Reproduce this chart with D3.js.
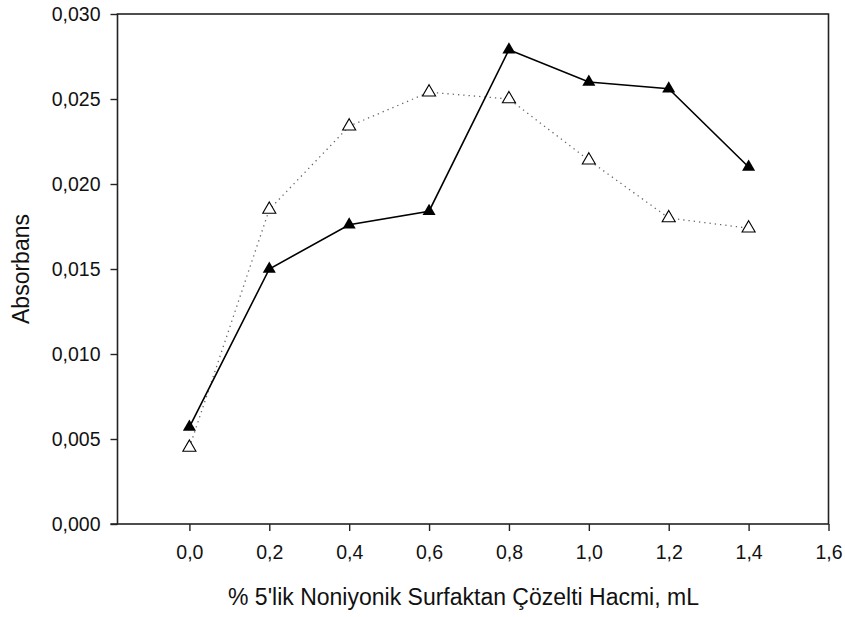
<!DOCTYPE html>
<html>
<head>
<meta charset="utf-8">
<script src="https://cdn.jsdelivr.net/npm/d3@7"></script>
<style>
  body { margin: 0; background: #fff; }
  svg text { font-family: "Liberation Sans", Arial, sans-serif; fill: #111; }
</style>
</head>
<body>
<div id="chart"></div>
<script>
// volumes (mL) and absorbance readings for the two series
const volumes = [0.0, 0.2, 0.4, 0.6, 0.8, 1.0, 1.2, 1.4];
const filledSeries = [0.0057, 0.0150, 0.0176, 0.0184, 0.0279, 0.0260, 0.0256, 0.0210];
const openSeries = [0.0045, 0.0185, 0.0234, 0.0254, 0.0250, 0.0214, 0.0180, 0.0174];
const xTicks = [0.0, 0.2, 0.4, 0.6, 0.8, 1.0, 1.2, 1.4, 1.6];
const yTicks = [0.000, 0.005, 0.010, 0.015, 0.020, 0.025, 0.030];

const width = 845, height = 617;
const plot = {left: 117.5, right: 828.5, top: 14, bottom: 524};

const locale = d3.formatLocale({decimal: ",", thousands: ".", grouping: [3], currency: ["", ""]});
const fx = locale.format(".1f"), fy = locale.format(".3f");

const svg = d3.select("#chart").append("svg")
  .attr("width", width)
  .attr("height", height);

const x = d3.scaleLinear().domain([-0.18, 1.6]).range([plot.left, plot.right]);
const y = d3.scaleLinear().domain([0, 0.030]).range([plot.bottom, plot.top]);

// frame
svg.append("rect")
  .attr("x", plot.left).attr("y", plot.top)
  .attr("width", plot.right - plot.left).attr("height", plot.bottom - plot.top)
  .attr("fill", "none").attr("stroke", "#222").attr("stroke-width", 1.6);

// axes
const xAxisG = svg.append("g")
  .attr("transform", `translate(0,${plot.bottom})`)
  .call(d3.axisBottom(x).tickValues(xTicks).tickFormat(fx).tickSize(7).tickSizeOuter(0).tickPadding(14));

const yAxisG = svg.append("g")
  .attr("transform", `translate(${plot.left},0)`)
  .call(d3.axisLeft(y).tickValues(yTicks).tickFormat(fy).tickSize(7).tickSizeOuter(0).tickPadding(10));

[xAxisG, yAxisG].forEach(g => {
  g.select(".domain").remove();
  g.selectAll(".tick line").attr("stroke", "#222").attr("stroke-width", 1.4);
  g.selectAll(".tick text").style("font-size", "19.5px").attr("fill", "#111");
});

// extend the bottom line left to the tick length
svg.append("line")
  .attr("x1", plot.left - 7).attr("x2", plot.left)
  .attr("y1", plot.bottom).attr("y2", plot.bottom)
  .attr("stroke", "#222").attr("stroke-width", 1.6);

// axis titles
svg.append("text")
  .attr("x", 463.5)
  .attr("y", 605)
  .attr("text-anchor", "middle")
  .style("font-size", "23px")
  .text("% 5'lik Noniyonik Surfaktan Çözelti Hacmi, mL");

svg.append("text")
  .attr("transform", `translate(29,${(plot.top + plot.bottom) / 2}) rotate(-90)`)
  .attr("text-anchor", "middle")
  .style("font-size", "23px")
  .text("Absorbans");

// lines
const line = d3.line().x(d => x(d[0])).y(d => y(d[1]));
const openPts = volumes.map((v, i) => [v, openSeries[i]]);
const filledPts = volumes.map((v, i) => [v, filledSeries[i]]);

svg.append("path")
  .attr("d", line(openPts))
  .attr("fill", "none")
  .attr("stroke", "#666")
  .attr("stroke-width", 1.3)
  .attr("stroke-dasharray", "1.3,4");

svg.append("path")
  .attr("d", line(filledPts))
  .attr("fill", "none")
  .attr("stroke", "#000")
  .attr("stroke-width", 1.6);

// markers
const tri = d3.symbol().type(d3.symbolTriangle).size(74);

svg.selectAll(".open")
  .data(openPts)
  .join("path")
  .attr("class", "open")
  .attr("transform", d => `translate(${x(d[0])},${y(d[1])})`)
  .attr("d", tri)
  .attr("fill", "#fff")
  .attr("stroke", "#000")
  .attr("stroke-width", 1.1);

svg.selectAll(".filled")
  .data(filledPts)
  .join("path")
  .attr("class", "filled")
  .attr("transform", d => `translate(${x(d[0])},${y(d[1])})`)
  .attr("d", tri)
  .attr("fill", "#000");
</script>
</body>
</html>
